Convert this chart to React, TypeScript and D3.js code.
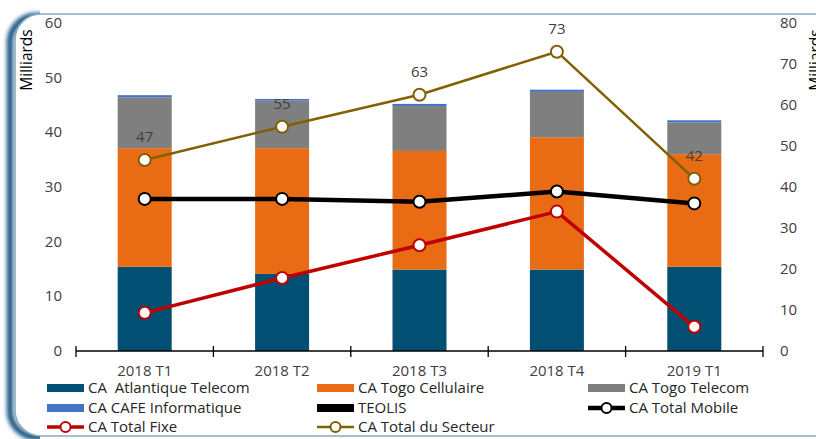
import React from "react";
import * as d3 from "d3";

const categories = ["2018 T1", "2018 T2", "2018 T3", "2018 T4", "2019 T1"];
const atlantique = [15.4, 14.1, 14.9, 14.9, 15.4];
const togoCellulaire = [21.7, 23.0, 21.7, 24.2, 20.6];
const togoTelecom = [9.3, 8.7, 8.2, 8.3, 5.8];
const cafe = [0.4, 0.3, 0.4, 0.4, 0.4];
const teolis = [0, 0, 0, 0, 0];
const totalMobile = [37.1, 37.1, 36.4, 38.9, 36.0];
const totalFixe = [9.3, 17.8, 25.8, 34.0, 5.9];
const totalSecteur = [46.6, 54.7, 62.5, 73.0, 42.0];
const secteurLabels = ["47", "55", "63", "73", "42"];
const leftTicks = [0, 10, 20, 30, 40, 50, 60];
const rightTicks = [0, 10, 20, 30, 40, 50, 60, 70, 80];

const W = 816, H = 439;
const FONT = "'Open Sans', sans-serif";
const TXT = "#404040";

const barSeries = [
  { name: "CA  Atlantique Telecom", values: atlantique, color: "#014F73" },
  { name: "CA Togo Cellulaire", values: togoCellulaire, color: "#E96C14" },
  { name: "CA Togo Telecom", values: togoTelecom, color: "#7F7F7F" },
  { name: "CA CAFE Informatique", values: cafe, color: "#4472C4" },
  { name: "TEOLIS", values: teolis, color: "#000000" },
];
const lineSeries = [
  { name: "CA Total Mobile", values: totalMobile, color: "#000000", width: 4.5 },
  { name: "CA Total Fixe", values: totalFixe, color: "#C00000", width: 3.5 },
  { name: "CA Total du Secteur", values: totalSecteur, color: "#806000", width: 2.5 },
];

export default function App() {
  const x = d3.scaleBand<string>().domain(categories).range([76, 763]).padding(0);
  const step = x.step();
  const cx = (c: string) => (x(c) as number) + step / 2;
  const barW = step * 0.393;
  const yL = d3.scaleLinear().domain([0, 60]).range([351, 23]);
  const yR = d3.scaleLinear().domain([0, 80]).range([351, 23]);

  const stackData = categories.map((c, i) => {
    const o: any = { cat: c };
    barSeries.forEach((s, k) => (o["s" + k] = s.values[i]));
    return o;
  });
  const stack = d3.stack<any>().keys(barSeries.map((_, k) => "s" + k))(stackData);

  const line = d3
    .line<number>()
    .x((_, i) => cx(categories[i]))
    .y((v) => yR(v));

  const legendItems = [
    { ...barSeries[0], kind: "bar" },
    { ...barSeries[1], kind: "bar" },
    { ...barSeries[2], kind: "bar" },
    { ...barSeries[3], kind: "bar" },
    { ...barSeries[4], kind: "bar" },
    { ...lineSeries[0], kind: "line" },
    { ...lineSeries[1], kind: "line" },
    { ...lineSeries[2], kind: "line" },
  ] as any[];
  const colX = [47, 317, 588];
  const rowY = [388, 408, 427];

  return (
    <svg
      width={W}
      height={H}
      style={{ position: "fixed", left: 0, top: 0, background: "#fff" }}
      fontFamily={FONT}
    >
      <defs>
        <filter id="blur" x="-50%" y="-10%" width="200%" height="120%">
          <feGaussianBlur stdDeviation="2.2" />
        </filter>
        <clipPath id="leftOnly">
          <rect x={0} y={0} width={40} height={H} />
        </clipPath>
      </defs>
      {/* frame */}
      <g clipPath="url(#leftOnly)">
        <rect x={10} y={16} width={830} height={421} rx={26} fill="none" stroke="#0d4e7a" strokeWidth={6} filter="url(#blur)" />
      </g>
      <rect x={15} y={14} width={828} height={422} rx={26} fill="#fff" stroke="#86abc4" strokeWidth={1.5} />

      {/* bars */}
      {stack.map((layer, k) => (
        <g key={k} fill={barSeries[k].color}>
          {layer.map((d, i) =>
            d[1] - d[0] > 0 ? (
              <rect
                key={i}
                x={cx(categories[i]) - barW / 2}
                y={yL(d[1])}
                width={barW}
                height={yL(d[0]) - yL(d[1])}
              />
            ) : null
          )}
        </g>
      ))}

      {/* x axis */}
      <line x1={76} x2={763} y1={351} y2={351} stroke="#000" strokeWidth={1.3} />
      {categories.map((c) => (
        <line key={c} x1={x(c)} x2={x(c)} y1={346} y2={357} stroke="#000" strokeWidth={1.3} />
      ))}
      <line x1={763} x2={763} y1={346} y2={357} stroke="#000" strokeWidth={1.3} />
      {categories.map((c) => (
        <text key={c} x={cx(c)} y={376} textAnchor="middle" fontSize={15} fill={TXT}>
          {c}
        </text>
      ))}

      {/* axis ticks */}
      {leftTicks.map((t) => (
        <text key={t} x={62} y={yL(t) + 5} textAnchor="end" fontSize={15} fill={TXT}>
          {t}
        </text>
      ))}
      {rightTicks.map((t) => (
        <text key={t} x={780} y={yR(t) + 5} textAnchor="start" fontSize={15} fill={TXT}>
          {t}
        </text>
      ))}
      <text transform="translate(32,60) rotate(-90)" textAnchor="middle" fontSize={15.5} fill="#000">
        Milliards
      </text>
      <text transform="translate(821,60) rotate(-90)" textAnchor="middle" fontSize={15.5} fill="#000">
        Milliards
      </text>

      {/* lines */}
      {lineSeries.map((s) => (
        <g key={s.name}>
          <path d={line(s.values) as string} fill="none" stroke={s.color} strokeWidth={s.width} strokeLinejoin="round" />
          {s.values.map((v, i) => (
            <circle key={i} cx={cx(categories[i])} cy={yR(v)} r={6} fill="#fff" stroke={s.color} strokeWidth={2} />
          ))}
        </g>
      ))}
      {totalSecteur.map((v, i) => (
        <text key={i} x={cx(categories[i])} y={yR(v) - 18} textAnchor="middle" fontSize={15} fill={TXT}>
          {secteurLabels[i]}
        </text>
      ))}

      {/* legend */}
      {legendItems.map((it, idx) => {
        const col = idx % 3;
        const row = Math.floor(idx / 3);
        const lx = colX[col];
        const ly = rowY[row];
        return (
          <g key={idx}>
            {it.kind === "bar" ? (
              <rect x={lx} y={ly - 4} width={37} height={8} fill={it.color} />
            ) : (
              <g>
                <line x1={lx} x2={lx + 37} y1={ly} y2={ly} stroke={it.color} strokeWidth={it.width} />
                <circle cx={lx + 18.5} cy={ly} r={5} fill="#fff" stroke={it.color} strokeWidth={2} />
              </g>
            )}
            <text x={lx + 41} y={ly + 5} fontSize={15} fill="#262626" style={{ whiteSpace: "pre" }}>
              {it.name}
            </text>
          </g>
        );
      })}
    </svg>
  );
}
